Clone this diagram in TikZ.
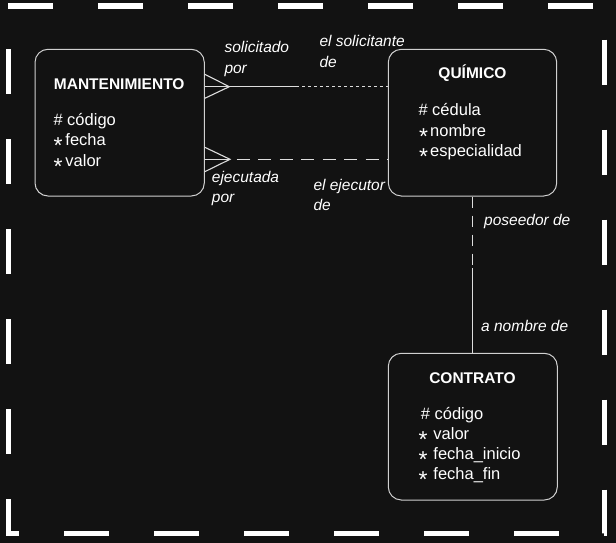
\documentclass[tikz,border=0pt]{standalone}
\usepackage{fontspec}
\setmainfont{Liberation Sans}
\definecolor{bgc}{HTML}{121212}
\definecolor{ln}{HTML}{DDDDDD}
\definecolor{bx}{HTML}{D0D0D0}
\newcommand\stx{\smash{\fontsize{23}{23}\selectfont\raisebox{-8pt}{*}}}
\begin{document}
\begin{tikzpicture}[x=1pt,y=-1pt,
 ent/.style={draw=bx, line width=1pt, rounded corners=13pt, inner sep=0pt},
 ttl/.style={font=\fontsize{15.5}{15.5}\selectfont\bfseries, text=white, anchor=base, inner sep=0pt},
 attr/.style={font=\fontsize{16.5}{16.5}\selectfont, text=white, anchor=base west, inner sep=0pt},
 lbl/.style={font=\fontsize{15.5}{15.5}\selectfont\itshape, text=white, anchor=base west, inner sep=0pt},
 rel/.style={draw=ln, line width=1.1pt},
]
\fill[bgc] (0,0) rectangle (616,543);
\useasboundingbox (0,0) rectangle (616,543);
\draw[white, line width=5.5pt, dash pattern=on 45pt off 45pt] (8.3,6) -- (604.7,6) -- (604.7,533.5) -- (8.3,533.5) -- cycle;

% entities
\node[ent, minimum width=169.3pt, minimum height=146.7pt] (mant) at (119.65,122.65) {};
\node[ent, minimum width=168.4pt, minimum height=146.7pt] (quim) at (472.5,122.65) {};
\node[ent, minimum width=169pt, minimum height=146.7pt] (cont) at (472.8,426.65) {};

\node[ttl] (mantt) at (119.2,89) {MANTENIMIENTO};
\node[attr] (ma1) at (53.3,125) {\# código};
\node[attr] (ma2) at (53.3,145.5) {\stx\hspace{3pt}fecha};
\node[attr] (ma3) at (53.3,166) {\stx\hspace{3pt}valor};

\node[ttl] (quimt) at (472.5,78.3) {QUÍMICO};
\node[attr] (qa1) at (418.3,115.5) {\# cédula};
\node[attr] (qa2) at (419,136) {\stx\hspace{2pt}nombre};
\node[attr] (qa3) at (419,156.5) {\stx\hspace{2pt}especialidad};

\node[ttl] (contt) at (472.5,383.3) {CONTRATO};
\node[attr] (ca1) at (420.7,419) {\# código};
\node[attr] (ca2) at (418.3,439.5) {\stx\hspace{6pt}valor};
\node[attr] (ca3) at (418.3,459.5) {\stx\hspace{6pt}fecha\_inicio};
\node[attr] (ca4) at (418.3,479.5) {\stx\hspace{6pt}fecha\_fin};

% relationship 1 (solicitado por / el solicitante de)
\coordinate (t1) at (229.3,86.7);
\coordinate (m1) at (296,86.7);
\draw[rel] (mant.east |- 0,74.3) -- (t1) -- (mant.east |- 0,98.3);
\draw[rel] (mant.east |- t1) -- (t1) -- (m1);
\draw[rel, dash pattern=on 3pt off 3pt] (m1) -- (quim.west |- t1);

% relationship 2 (ejecutada por / el ejecutor de)
\coordinate (t2) at (230,159.3);
\draw[rel] (mant.east |- 0,147.3) -- (t2) -- (mant.east |- 0,171.7);
\draw[rel] (mant.east |- t2) -- (t2);
\draw[rel, dash pattern=on 13pt off 8.5pt, dash phase=15pt] (t2) -- (quim.west |- t2);

% relationship 3 (poseedor de / a nombre de)
\coordinate (m3) at (472.7,268);
\draw[rel, dash pattern=on 11pt off 8pt] (quim.south -| m3) -- (m3);
\draw[rel] (m3) -- (cont.north -| m3);

% labels
\node[lbl] (l1a) at (224.3,52.7) {solicitado};
\node[lbl] (l1b) at (224.3,73.3) {por};
\node[lbl] (l2a) at (319.3,46.7) {el solicitante};
\node[lbl] (l2b) at (319.3,67.3) {de};
\node[lbl] (l3a) at (211.7,182.3) {ejecutada};
\node[lbl] (l3b) at (211.7,202.6) {por};
\node[lbl] (l4a) at (313.3,190) {el ejecutor};
\node[lbl] (l4b) at (313.3,210.5) {de};
\node[lbl] (l5) at (484,225.5) {poseedor de};
\node[lbl] (l6) at (481,331) {a nombre de};
\end{tikzpicture}
\end{document}
